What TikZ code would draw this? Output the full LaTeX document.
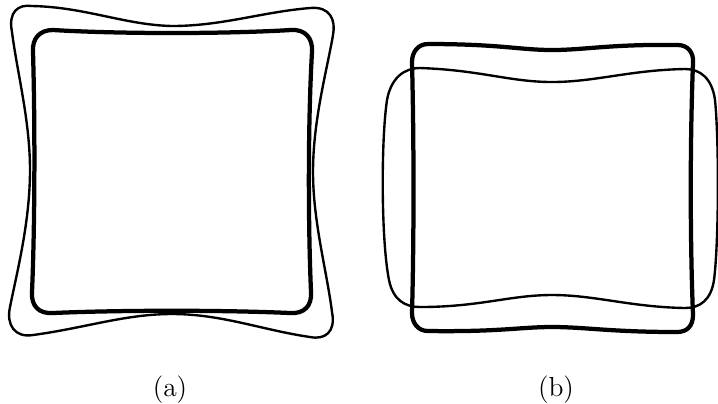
\documentclass[tikz,border=0pt]{standalone}
\usepackage{tikz}
\usetikzlibrary{positioning}

\begin{document}
\begin{tikzpicture}[x=0.4pt, y=-0.4pt,
      thinring/.style={draw=black, line width=0.95pt, line join=round},
      thickring/.style={draw=black, line width=1.7pt, line join=round},
      sublabel/.style={anchor=base, font=\fontsize{11}{13}\selectfont, inner sep=0pt}
    ]
      \useasboundingbox (0,0) rectangle (718,403);

      % (a) outer contour, concave sides
      \draw[thinring] (32,6) .. controls (85,7) and (125,25) .. (172,26)
        .. controls (222,26) and (262,12) .. (310,8)
        .. controls (330,6) and (336,20) .. (333,35)
        .. controls (327,70) and (313,120) .. (313,172)
        .. controls (313,222) and (327,272) .. (332,312)
        .. controls (336,332) and (325,340) .. (310,337)
        .. controls (262,330) and (222,314) .. (172,314)
        .. controls (125,314) and (85,328) .. (33,335)
        .. controls (15,338) and (6,325) .. (10,307)
        .. controls (17,272) and (30,222) .. (30,170)
        .. controls (30,120) and (17,72) .. (12,32)
        .. controls (8,12) and (18,4) .. (32,6) -- cycle;

      % (a) inner contour
      \draw[thickring] (53,30) .. controls (120,34) and (224,34) .. (291,30)
        .. controls (305,29) and (313,38) .. (312,52)
        .. controls (308,120) and (308,222) .. (311,292)
        .. controls (312,306) and (304,314) .. (290,313)
        .. controls (224,310) and (120,310) .. (53,313)
        .. controls (39,314) and (31,306) .. (32,292)
        .. controls (35,222) and (35,120) .. (33,52)
        .. controls (32,38) and (40,30) .. (53,30) -- cycle;

      % (b) flat contour
      \draw[thinring] (420,68) .. controls (480,70) and (510,82) .. (552,82)
        .. controls (595,82) and (630,70) .. (685,69)
        .. controls (700,69) and (712,78) .. (715,100)
        .. controls (719,140) and (719,240) .. (714,280)
        .. controls (711,300) and (700,308) .. (685,308)
        .. controls (630,307) and (595,295) .. (552,295)
        .. controls (510,295) and (480,307) .. (420,307)
        .. controls (405,307) and (393,300) .. (389,280)
        .. controls (381,240) and (381,140) .. (387,100)
        .. controls (391,78) and (404,68) .. (420,68) -- cycle;

      % (b) tall contour
      \draw[thickring] (428,44) .. controls (500,44) and (520,50) .. (552,50)
        .. controls (585,50) and (610,44) .. (678,45)
        .. controls (688,45) and (694,53) .. (693,63)
        .. controls (690,140) and (690,240) .. (693,315)
        .. controls (693,326) and (687,332) .. (677,332)
        .. controls (610,332) and (585,327) .. (552,327)
        .. controls (520,327) and (500,332) .. (428,331)
        .. controls (418,331) and (412,323) .. (412,313)
        .. controls (414,240) and (414,140) .. (412,62)
        .. controls (412,52) and (418,44) .. (428,44) -- cycle;

      % Captions
      \node[sublabel] (capa) at (170,396) {(a)};
      \node[sublabel] (capb) at (556,396) {(b)};
    \end{tikzpicture}
\end{document}
